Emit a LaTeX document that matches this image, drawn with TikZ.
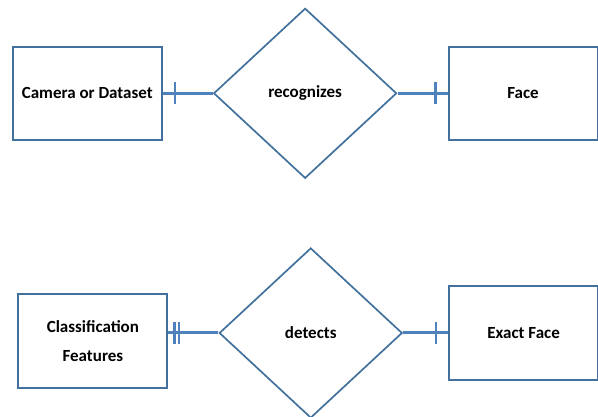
\documentclass[tikz,border=0pt]{standalone}
\usepackage{fontspec}
\setmainfont{Carlito}
\usetikzlibrary{positioning,shapes.geometric,decorations.markings}
\definecolor{linkblue}{HTML}{4F81BD}
\definecolor{edgeblue}{HTML}{41719C}

\begin{document}
\begin{tikzpicture}[x=1pt,y=1pt,
    entity/.style={rectangle,draw=edgeblue,line width=2pt,minimum width=149pt,minimum height=93pt,inner sep=2pt,align=center,font=\bfseries\fontsize{17}{28.5}\selectfont},
    relation/.style={diamond,draw=edgeblue,line width=1.7pt,minimum width=183pt,minimum height=170pt,inner sep=0pt,font=\bfseries\fontsize{17}{20}\selectfont},
    link/.style={draw=linkblue,line width=3pt},
    onebar/.style={postaction={decorate},decoration={markings,
        mark=at position 12pt with {\draw[linkblue,line width=2.6pt] (0,-11pt) -- (0,11pt);}}},
    twobar/.style={postaction={decorate},decoration={markings,
        mark=at position 6pt with {\draw[linkblue,line width=2.4pt] (0,-10.5pt) -- (0,10.5pt);},
        mark=at position 10.5pt with {\draw[linkblue,line width=2.4pt] (0,-10.5pt) -- (0,10.5pt);}}}]
    \useasboundingbox (0,0) rectangle (598,-417);

    \node[entity] (camera) at (87.3,-93.3) {Camera or Dataset};
    \node[relation] (recognize) [right = 50pt of camera] {recognizes};
    \node[entity] (face) [right = 50pt of recognize] {Face};

    \node[entity] (features) at (92.9,-341) {Classification\\Features};
    \node[relation] (detect) [right = 50pt of features, yshift=8pt] {detects};
    \node[entity] (exactface) [right = 45pt of detect] {Exact Face};

    \draw[link,onebar] (camera) -- (recognize);
    \draw[link,onebar] (face) -- (recognize);
    \draw[link,twobar] (features.east |- detect.west) -- (detect.west);
    \draw[link,onebar] (exactface) -- (detect);
\end{tikzpicture}
\end{document}
